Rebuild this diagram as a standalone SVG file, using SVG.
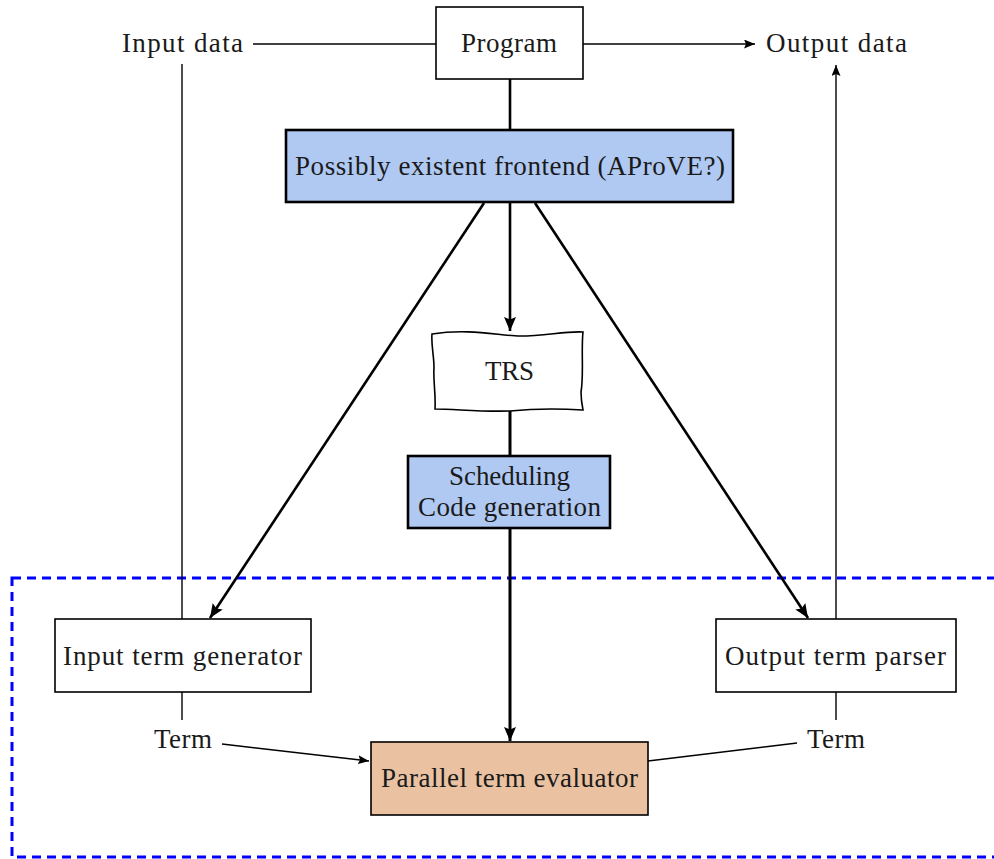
<svg xmlns="http://www.w3.org/2000/svg" width="994" height="859" viewBox="0 0 994 859">
<defs>
<style>
text{font-family:"Liberation Serif","Times New Roman",serif;font-size:27px;fill:#1a1a1a;text-anchor:middle;dominant-baseline:central}
.thin{stroke:#000;stroke-width:1.4;fill:none}
.thick{stroke:#000;stroke-width:2.6;fill:none}
.box{stroke:#000;stroke-width:1.6;fill:#fff}
.bbox{stroke:#000;stroke-width:2.6;fill:#b0c9f3}
</style>
<marker id="a" markerUnits="userSpaceOnUse" markerWidth="12" markerHeight="10" refX="11" refY="4.5" orient="auto"><path d="M0,0 L11,4.5 L0,9 L2,4.5 z" fill="#000"/></marker>
<marker id="b" markerUnits="userSpaceOnUse" markerWidth="15" markerHeight="13" refX="14" refY="6" orient="auto"><path d="M0,0 L14,6 L0,12 L2.5,6 z" fill="#000"/></marker>
</defs>
<rect x="12" y="578" width="1000" height="279" fill="none" stroke="#0000ff" stroke-width="3" stroke-dasharray="9,6"/>
<g id="connectors">
<line class="thin" x1="253" y1="44" x2="436" y2="44"/>
<line class="thin" x1="583" y1="44" x2="755" y2="44" marker-end="url(#a)"/>
<line class="thick" x1="510" y1="79" x2="510" y2="130"/>
<line class="thick" x1="510" y1="203" x2="510" y2="331" marker-end="url(#b)"/>
<line class="thick" x1="484" y1="203" x2="210" y2="618" marker-end="url(#b)"/>
<line class="thick" x1="535" y1="203" x2="808" y2="618" marker-end="url(#b)"/>
<line class="thick" x1="510" y1="407" x2="510" y2="456" style="stroke-width:3"/>
<line class="thick" x1="510" y1="528" x2="510" y2="741" marker-end="url(#b)" style="stroke-width:3"/>
<line class="thin" x1="182" y1="64" x2="182" y2="619"/>
<line class="thin" x1="836" y1="619" x2="836" y2="65" marker-end="url(#a)"/>
<line class="thin" x1="182" y1="692" x2="182" y2="720"/>
<line class="thin" x1="836" y1="692" x2="836" y2="720"/>
<line class="thin" x1="222" y1="744" x2="369" y2="761" marker-end="url(#a)"/>
<line class="thin" x1="648" y1="761" x2="797" y2="743"/>
</g>
<text x="182.5" y="43" textLength="121" lengthAdjust="spacing">Input data</text>
<text x="836.5" y="43" textLength="141" lengthAdjust="spacing">Output data</text>
<g id="program"><rect class="box" x="436" y="7" width="147" height="72"/><text x="509" y="43" textLength="96" lengthAdjust="spacing">Program</text></g>
<g id="frontend"><rect class="bbox" x="286" y="130" width="447" height="72"/><text x="510" y="166" textLength="430" lengthAdjust="spacing">Possibly existent frontend (AProVE?)</text></g>
<g id="trs"><path class="box" d="M432,334 C470,328 500,336 520,336 C545,336 565,331 583,332 C581,350 584,375 581,392 C581,400 582,405 583,410 C550,408 530,409 510,411 C480,412 455,409 435,409 C436,395 433,380 434,368 C434,355 431,345 432,334 z"/><text x="509.5" y="371" textLength="49" lengthAdjust="spacing">TRS</text></g>
<g id="scheduling"><rect class="bbox" x="408" y="456" width="202" height="72"/><text x="509.5" y="476" textLength="121" lengthAdjust="spacing">Scheduling</text><text x="509.5" y="507" textLength="183" lengthAdjust="spacing">Code generation</text></g>
<g id="inputgen"><rect class="box" x="55" y="619" width="256" height="73"/><text x="182.5" y="656" textLength="239" lengthAdjust="spacing">Input term generator</text></g>
<g id="outputparser"><rect class="box" x="716" y="619" width="240" height="73"/><text x="835.5" y="656" textLength="221" lengthAdjust="spacing">Output term parser</text></g>
<g id="termL"><text x="183" y="739" textLength="58" lengthAdjust="spacing">Term</text></g>
<g id="termR"><text x="836" y="739" textLength="58" lengthAdjust="spacing">Term</text></g>
<g id="evaluator"><rect class="box" x="371" y="742" width="277" height="73" style="fill:#ebc2a1"/><text x="509.5" y="778" textLength="257" lengthAdjust="spacing">Parallel term evaluator</text></g>
</svg>
